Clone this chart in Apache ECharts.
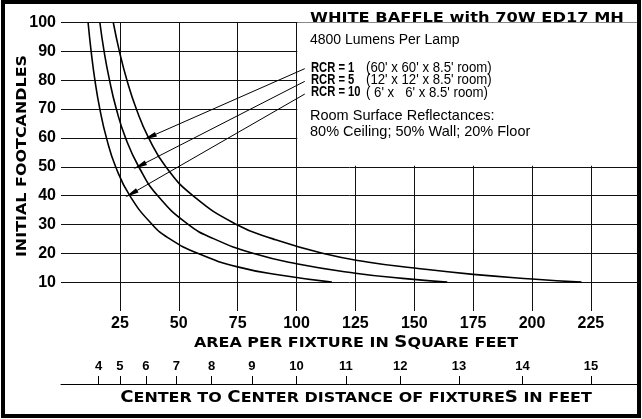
<!DOCTYPE html>
<html><head><meta charset="utf-8">
<script src="https://cdn.jsdelivr.net/npm/echarts@6/dist/echarts.min.js"></script>
<style>html,body{margin:0;padding:0;background:#fff}#c{width:642px;height:419px}</style>
</head><body><div id="c"></div>
<script>
// ---- data (area per fixture [sq ft], initial footcandles) ----
const rcr1Points  = [[22.2,100],[24.8,90],[28,80],[32,70],[37.2,60],[44.5,50],[56,40],[74.5,30],[90,25],[111,20],[130,17],[150,14.9],[175,12.7],[200,11.1],[221,10]];
const rcr5Points  = [[16.5,100],[18.3,90],[20.6,80],[23.5,70],[27.4,60],[33,50],[41,40],[54,30],[65,25],[81.5,20],[100,16.4],[125,13.1],[145,11.3],[164,10]];
const rcr10Points = [[11.5,100],[12.8,90],[14.4,80],[16.5,70],[19.3,60],[23.2,50],[29.2,40],[38.7,30],[46.2,25],[58,20],[75,15.3],[95,12.2],[115,10]];
const seriesNames = ['RCR = 1','RCR = 5','RCR = 10'];
const roomNotes = ["(60' x 60' x 8.5' room)", "(12' x 12' x 8.5' room)", "( 6' x   6' x 8.5' room)"];
const yMin = 0, yMax = 100, yStep = 10;
const xMin = 0, xMax = 245, xStep = 25;
const distanceTicks = [4,5,6,7,8,9,10,11,12,13,14,15]; // feet, center to center
// arrow annotations: [label end, point on curve] in data coords
const arrowLines = [
  [[103.5,84.0],[37.6,60.3]],
  [[103.5,79.6],[33.4,50.3]],
  [[103.5,75.2],[29.8,40.6]]
];
const textBox = [[100.35,50.35],[245,100]];

const chart = echarts.init(document.getElementById('c'), null, {renderer:'canvas'});
const lineColor = '#111';
const sqTicks = distanceTicks.map(d => d*d);
const titleRich = {
  a:{fontSize:14.5, fontWeight:'bold', fontFamily:'DejaVu Sans', fill:'#000'},
  b:{fontSize:16.5, fontWeight:'bold', fontFamily:'DejaVu Sans', fill:'#000'}
};

const curveSeries = [rcr1Points, rcr5Points, rcr10Points].map((pts,i) => ({
  type:'line', name: seriesNames[i], data: pts, xAxisIndex:0, yAxisIndex:0,
  smooth: 0.5, showSymbol:false, symbol:'none',
  lineStyle:{color:'#000', width:1.6}, z:3, silent:true
}));

const option = {
  animation:false,
  backgroundColor:'#fff',
  grid:{left:61, right:4, top:22.5, bottom:108},
  xAxis:[{
    type:'value', min:xMin, max:xMax, interval:xStep, position:'bottom',
    axisLine:{show:false}, axisTick:{show:false},
    splitLine:{show:true, showMinLine:false, showMaxLine:false, lineStyle:{color:lineColor, width:1}},
    axisLabel:{showMinLabel:false, showMaxLabel:false, margin:5, color:'#000', fontSize:16, fontWeight:'bold', fontFamily:'Liberation Sans, Arial, sans-serif'}
  },{
    type:'value', min:xMin, max:xMax, position:'bottom', offset:73,
    axisLine:{show:true, lineStyle:{color:'#000', width:1}},
    axisTick:{show:true, inside:true, length:8, customValues:sqTicks, lineStyle:{color:'#000', width:1}},
    axisLabel:{show:true, inside:true, margin:11, customValues:sqTicks, formatter:v => String(Math.round(Math.sqrt(v))),
      color:'#000', fontSize:13, fontWeight:'bold', fontFamily:'Liberation Sans, Arial, sans-serif'},
    splitLine:{show:false}
  }],
  yAxis:[{
    type:'value', min:yMin, max:yMax, interval:yStep,
    axisLine:{show:false}, axisTick:{show:false},
    splitLine:{show:true, showMinLine:false, showMaxLine:true, lineStyle:{color:lineColor, width:1}},
    axisLabel:{showMinLabel:false, margin:5, color:'#000', fontSize:16, fontWeight:'bold', fontFamily:'Liberation Sans, Arial, sans-serif'}
  }],
  series:[
    { type:'line', data:[], xAxisIndex:0, yAxisIndex:0, silent:true, z:2,
      markArea:{silent:true, itemStyle:{color:'#fff', opacity:1}, label:{show:false},
        data:[[{coord:textBox[0]},{coord:textBox[1]}]]}
    },
    ...curveSeries,
    { type:'line', data:[], xAxisIndex:0, yAxisIndex:0, silent:true, z:4,
      markLine:{silent:true, symbol:['none','triangle'], symbolSize:[5,14], label:{show:false},
        lineStyle:{color:'#000', width:1, type:'solid'}, animation:false,
        data: arrowLines.map(a => [{coord:a[0]},{coord:a[1]}])}
    }
  ],
  graphic:[
    {type:'text', x:22, y:156, rotation:Math.PI/2, scaleX:1.1, silent:true, z:10,
      style:{text:'INITIAL FOOTCANDLES', fill:'#000', font:'bold 14.5px "DejaVu Sans"', align:'center', verticalAlign:'middle'}},
    {type:'text', x:356, y:343, scaleX:1.1, silent:true, z:10,
      style:{text:'{a|AREA PER FIXTURE IN }{b|S}{a|QUARE FEET}', rich:titleRich, fill:'#000', fontSize:14.5, fontWeight:'bold', fontFamily:'DejaVu Sans', align:'center', verticalAlign:'middle'}},
    {type:'text', x:356, y:398, scaleX:1.1, silent:true, z:10,
      style:{text:'{b|C}{a|ENTER TO }{b|C}{a|ENTER DISTANCE OF FIXTURE}{b|S}{a| IN FEET}', rich:titleRich, fill:'#000', fontSize:14.5, fontWeight:'bold', fontFamily:'DejaVu Sans', align:'center', verticalAlign:'middle'}},
    {type:'text', x:310, y:18, scaleX:1.12, silent:true, z:10,
      style:{text:'WHITE BAFFLE with 70W ED17 MH', fill:'#000', font:'bold 14.5px "DejaVu Sans"', verticalAlign:'middle'}},
    {type:'text', x:310, y:40, silent:true, z:10,
      style:{text:'4800 Lumens Per Lamp', fill:'#000', font:'14px "Liberation Sans"', verticalAlign:'middle'}},
    ...seriesNames.map((n,i) => ({type:'text', x:311, y:68 + i*12.3, scaleX:0.8, silent:true, z:10,
      style:{text:n, fill:'#000', font:'bold 14px "Liberation Sans"', verticalAlign:'middle'}})),
    ...roomNotes.map((n,i) => ({type:'text', x:366, y:68 + i*12.3, scaleX:0.88, silent:true, z:10,
      style:{text:n, fill:'#000', font:'15px "Liberation Sans"', verticalAlign:'middle'}})),
    {type:'text', x:310, y:116, silent:true, z:10,
      style:{text:'Room Surface Reflectances:', fill:'#000', font:'14.5px "Liberation Sans"', verticalAlign:'middle'}},
    {type:'text', x:310, y:132, silent:true, z:10,
      style:{text:'80% Ceiling; 50% Wall; 20% Floor', fill:'#000', font:'14.5px "Liberation Sans"', verticalAlign:'middle'}},
    {type:'rect', shape:{x:3, y:2, width:636, height:414}, silent:true, z:20,
      style:{fill:'none', stroke:'#000', lineWidth:4}}
  ]
};
chart.setOption(option);
</script>
</body></html>
